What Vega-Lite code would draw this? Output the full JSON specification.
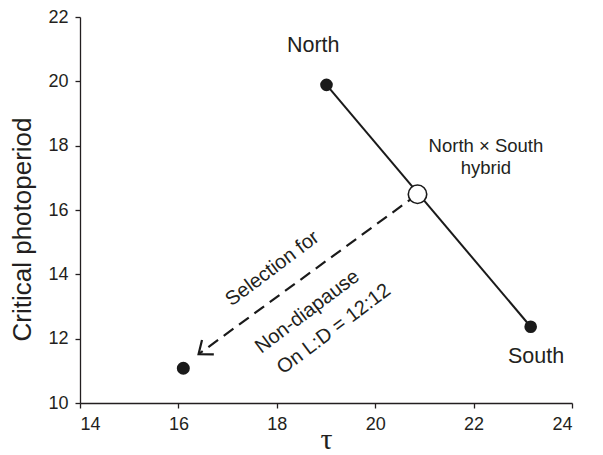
{
  "$schema": "https://vega.github.io/schema/vega-lite/v6.json",
  "width": 492,
  "height": 386,
  "autosize": {"type": "none"},
  "padding": {"left": 80, "top": 17, "right": 31, "bottom": 52},
  "config": {
    "view": {"stroke": null},
    "font": "Liberation Sans",
    "axis": {"grid": false, "domainColor": "#231f20", "tickColor": "#231f20", "labelColor": "#231f20", "titleColor": "#231f20", "labelFontSize": 18, "labelFont": "Liberation Sans", "tickSize": 5, "domainWidth": 1.3, "tickWidth": 1.3, "labelFontWeight": "normal", "titleFontWeight": "normal", "labelPadding": 7}
  },
  "datasets": {
    "pops": [
      {"name": "North", "tau": 19.01, "cp": 19.89},
      {"name": "South", "tau": 23.16, "cp": 12.37}
    ],
    "hybrid": [{"name": "Hybrid", "tau": 20.86, "cp": 16.49}],
    "selected": [{"name": "Selected", "tau": 16.1, "cp": 11.08}],
    "arrow": [
      {"seg": "shaft", "ord": 1, "tau": 20.86, "cp": 16.49},
      {"seg": "shaft", "ord": 2, "tau": 16.43, "cp": 11.54}
    ],
    "head": [
      {"seg": "head", "ord": 1, "tau": 16.72, "cp": 11.51},
      {"seg": "head", "ord": 2, "tau": 16.41, "cp": 11.52},
      {"seg": "head", "ord": 3, "tau": 16.48, "cp": 11.96}
    ],
    "labels": [
      {"text": "North", "tau": 18.74, "cp": 20.92, "size": 21.5},
      {"text": "South", "tau": 23.27, "cp": 11.24, "size": 21.5},
      {"text": "North × South", "tau": 22.25, "cp": 17.81, "size": 18.5},
      {"text": "hybrid", "tau": 22.25, "cp": 17.11, "size": 18.5}
    ],
    "rotlabels": [
      {"text": "Selection for", "tau": 17.91, "cp": 14.18},
      {"text": "Non-diapause", "tau": 18.62, "cp": 12.84},
      {"text": "On L:D = 12:12", "tau": 19.16, "cp": 12.3}
    ]
  },
  "encoding": {
    "x": {"field": "tau", "type": "quantitative", "scale": {"domain": [14, 24], "nice": false, "zero": false},
      "axis": {"values": [14, 16, 18, 20, 22, 24], "title": "τ", "titleFont": "Liberation Serif", "titleFontSize": 30, "titleBaseline": "bottom", "titleY": 51}},
    "y": {"field": "cp", "type": "quantitative", "scale": {"domain": [10, 22], "nice": false, "zero": false},
      "axis": {"values": [10, 12, 14, 16, 18, 20, 22], "title": "Critical photoperiod", "titleFontSize": 26, "titleBaseline": "alphabetic", "titleX": -50, "titleY": 212}}
  },
  "layer": [
    {"data": {"name": "pops"}, "mark": {"type": "line", "color": "#1a1a1a", "strokeWidth": 2}, "encoding": {}},
    {"data": {"name": "arrow"}, "mark": {"type": "line", "color": "#1a1a1a", "strokeWidth": 2.2, "strokeDash": [12, 7]}, "encoding": {"order": {"field": "ord"}}},
    {"data": {"name": "head"}, "mark": {"type": "line", "color": "#1a1a1a", "strokeWidth": 2.2}, "encoding": {"order": {"field": "ord"}}},
    {"data": {"name": "pops"}, "mark": {"type": "point", "shape": "circle", "filled": true, "color": "#1a1a1a", "size": 160, "opacity": 1}},
    {"data": {"name": "selected"}, "mark": {"type": "point", "shape": "circle", "filled": true, "color": "#1a1a1a", "size": 170, "opacity": 1}},
    {"data": {"name": "hybrid"}, "mark": {"type": "point", "shape": "circle", "filled": true, "fill": "white", "stroke": "#1a1a1a", "strokeWidth": 1.6, "size": 340, "opacity": 1}},
    {"data": {"name": "labels"}, "mark": {"type": "text", "color": "#231f20", "align": "center", "baseline": "alphabetic"}, "encoding": {"text": {"field": "text"}, "size": {"field": "size", "type": "quantitative", "scale": null}}},
    {"data": {"name": "rotlabels"}, "mark": {"type": "text", "color": "#231f20", "align": "center", "baseline": "middle", "angle": 323, "fontSize": 20}, "encoding": {"text": {"field": "text"}}}
  ]
}
